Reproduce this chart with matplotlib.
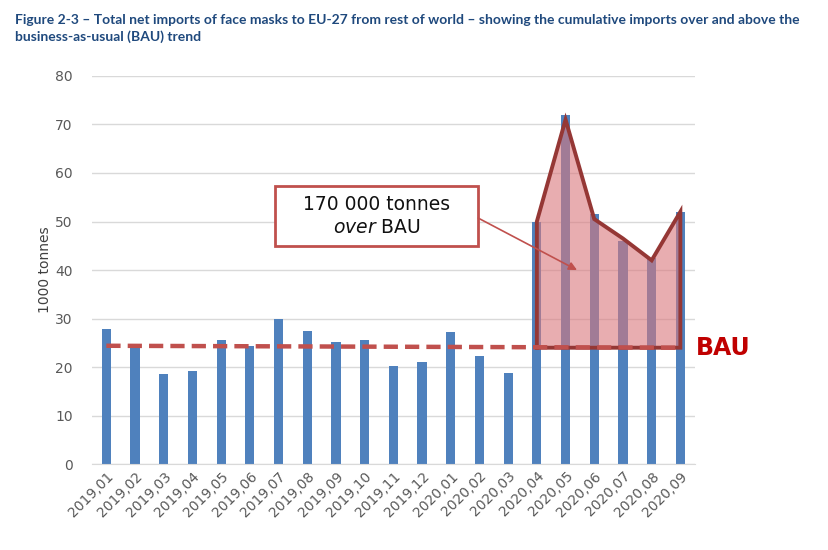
import matplotlib.pyplot as plt
from matplotlib.patches import Rectangle

months = ["2019,01", "2019,02", "2019,03", "2019,04", "2019,05", "2019,06",
          "2019,07", "2019,08", "2019,09", "2019,10", "2019,11", "2019,12",
          "2020,01", "2020,02", "2020,03", "2020,04", "2020,05", "2020,06",
          "2020,07", "2020,08", "2020,09"]
imports = [27.8, 24.0, 18.5, 19.3, 25.6, 24.4, 30.0, 27.4, 25.1, 25.6, 20.3,
           21.0, 27.3, 22.3, 18.8, 50.0, 72.0, 51.5, 46.0, 42.5, 52.0]
bau_start, bau_end = 24.4, 24.0
excess_months = ["2020,04", "2020,05", "2020,06", "2020,07", "2020,08", "2020,09"]
excess_top = [50.0, 71.0, 50.5, 46.5, 42.0, 52.0]
bau_level = 24.0

fig = plt.figure(figsize=(8.29, 5.5), dpi=100)
ax = fig.add_axes([0.111, 0.156, 0.727, 0.706])

x = list(range(len(months)))
ax.bar(x, imports, width=0.32, color="#4F81BD", zorder=2)

# shaded area over BAU
i0 = months.index(excess_months[0])
xs = [i0] + [i0 + k for k in range(len(excess_months))] + [i0 + len(excess_months) - 1]
ys = [bau_level] + excess_top + [bau_level]
ax.fill(xs, ys, facecolor="#D9777C", alpha=0.6, edgecolor="none", zorder=3)
ax.plot(xs + [xs[0]], ys + [ys[0]], color="#953735", lw=2.8, zorder=4,
        solid_joinstyle="miter")

# BAU trend
ax.plot([0, len(months) - 1], [bau_start, bau_end], color="#C0504D", lw=3.2,
        ls=(0, (3.2, 1.6)), zorder=5)

ax.text(len(months) - 0.45, bau_end, "BAU", color="#C00000", fontsize=17,
        fontweight="bold", va="center", ha="left", clip_on=False)

# callout box + arrow
bx0, bx1, by0, by1 = 5.86, 12.96, 44.9, 57.3
ax.add_patch(Rectangle((bx0, by0), bx1 - bx0, by1 - by0, facecolor="white",
                       edgecolor="#C0504D", lw=2, zorder=6))
ax.text((bx0 + bx1) / 2, (by0 + by1) / 2, "170 000 tonnes\n$\\it{over}$ BAU",
        ha="center", va="center", fontsize=13.5, color="#111111", zorder=7,
        linespacing=1.25)
ax.annotate("", xy=(16.4, 40.0), xytext=(bx1, 50.7),
            arrowprops=dict(arrowstyle="-|>", color="#C0504D", lw=1.2,
                            mutation_scale=12, shrinkA=0, shrinkB=0),
            zorder=6)

ax.set_xlim(-0.5, len(months) - 0.5)
ax.set_ylim(0, 80)
ax.set_yticks(range(0, 81, 10))
ax.set_xticks(x)
ax.set_xticklabels(months, rotation=45, ha="right", rotation_mode="anchor")
ax.tick_params(axis="both", length=0, colors="#595959", labelsize=10)
ax.tick_params(axis="y", pad=14)
ax.grid(axis="y", color="#D9D9D9", lw=1, zorder=0)
ax.set_axisbelow(True)
for s in ["top", "right", "left"]:
    ax.spines[s].set_visible(False)
ax.spines["bottom"].set_color("#D9D9D9")
ax.set_ylabel("1000 tonnes", color="#404040", fontsize=10, labelpad=2)

fig.text(0.018, 0.975, "Figure 2-3 \u2013 Total net imports of face masks to EU-27 from rest of world \u2013 "
         "showing the cumulative imports over and above the\nbusiness-as-usual (BAU) trend",
         fontsize=10, fontweight="bold", color="#1F497D", family="Lato",
         va="top", ha="left", linespacing=1.4)

fig.savefig("out.png", dpi=100)
